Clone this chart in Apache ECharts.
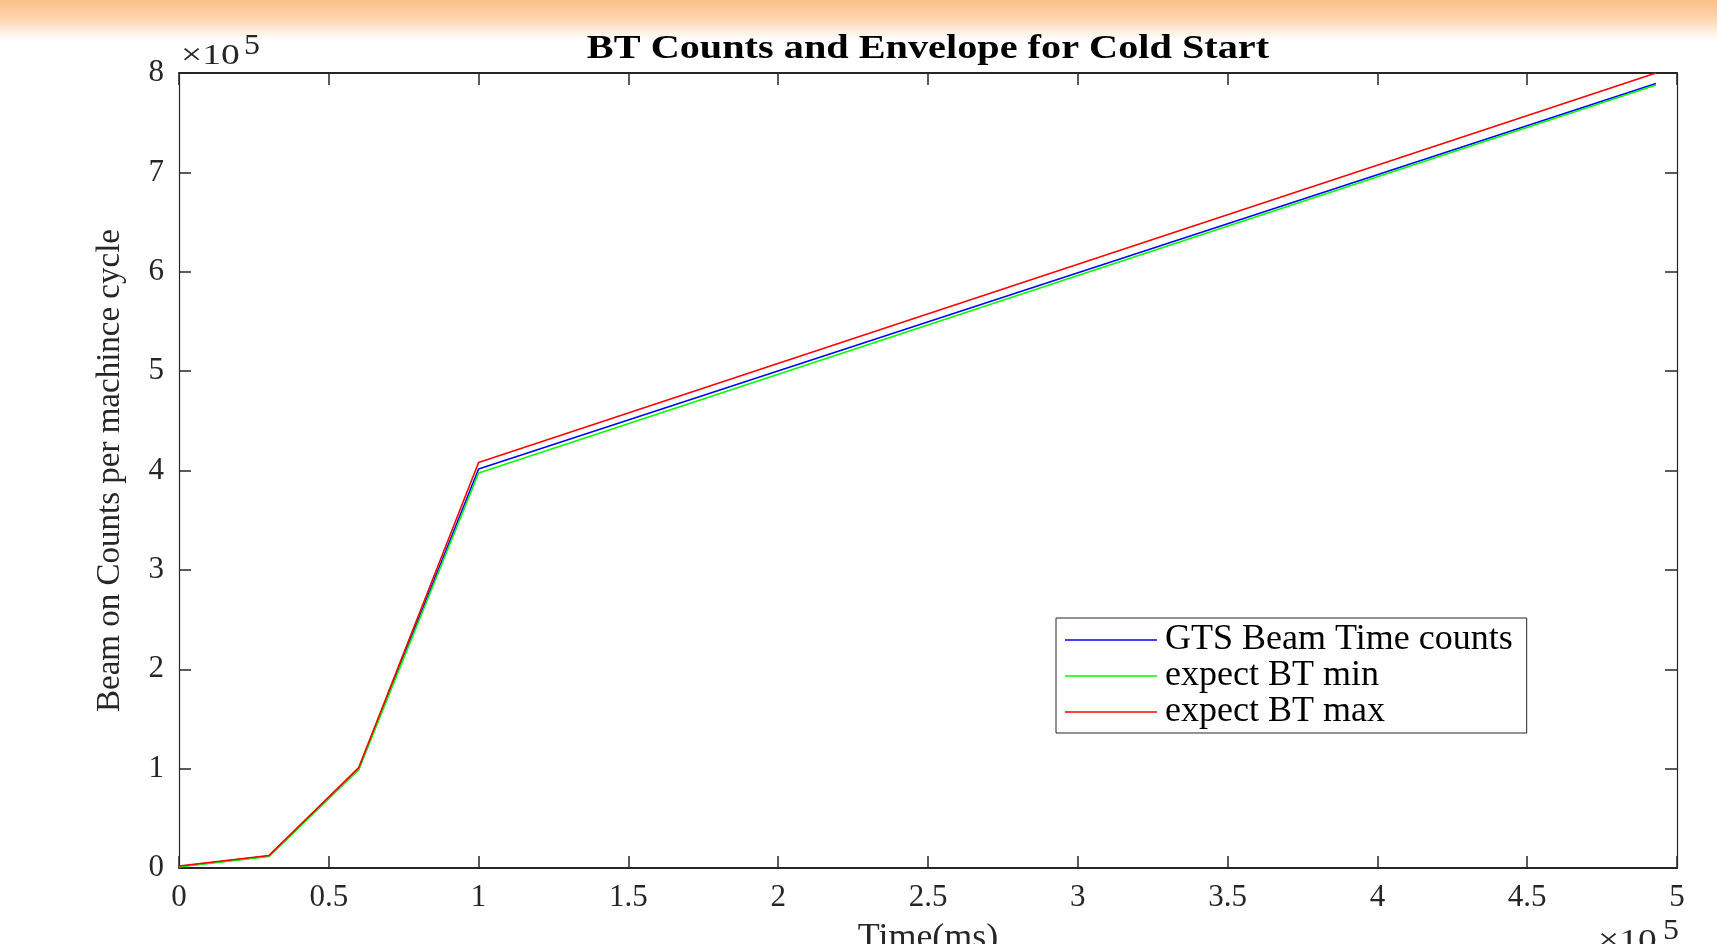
<!DOCTYPE html>
<html>
<head>
<meta charset="utf-8">
<script src="https://cdn.jsdelivr.net/npm/echarts@6/dist/echarts.min.js"></script>
<style>
html,body{margin:0;padding:0;background:#fff;}
#main{width:1717px;height:944px;}
</style>
</head>
<body>
<div id="main"></div>
<script>
// time axis (ms) and the three curves
var timeMs = [0, 30000, 60000, 100000, 493000];
var gtsCounts = [1500, 12000, 100000, 401500, 789500];
var btMin = [1000, 11500, 99000, 397500, 788000];
var btMax = [2000, 12500, 101000, 408000, 800000];
var seriesNames = ['GTS Beam Time counts', 'expect BT min', 'expect BT max'];

var serif = '"Liberation Serif", "Times New Roman", serif';
var ink = '#262626';

function pairs(xs, ys) {
	var out = [];
	for (var i = 0; i < xs.length; i++) out.push([xs[i], ys[i]]);
	return out;
}
function fmt(v) {
	return String(+(v / 1e5).toFixed(1));
}

var myChart = echarts.init(document.getElementById('main'));

var axisLine = { show: true, onZero: false, lineStyle: { color: ink, width: 2 } };
var axisLineY = { show: true, onZero: false, lineStyle: { color: ink, width: 1.2 } };
var tick = { show: true, inside: true, length: 12, lineStyle: { color: ink, width: 1.5 } };

option = {
	backgroundColor: '#fff',
	animation: false,
	grid: { left: 179, right: 40, top: 73, bottom: 76, containLabel: false, outerBoundsMode: 'none' },
	legend: {
		data: seriesNames,
		orient: 'vertical',
		left: 1056,
		top: 618,
		padding: [4, 14, 3, 9],
		icon: 'rect',
		itemWidth: 92,
		itemHeight: 1.6,
		itemGap: 0,
		borderColor: ink,
		borderWidth: 1,
		textStyle: { fontFamily: serif, fontSize: 36, lineHeight: 35, color: '#000', padding: [0, 0, 0, 3] }
	},
	xAxis: [{
		type: 'value',
		min: 0, max: 500000, interval: 50000,
		name: 'Time(ms)',
		nameLocation: 'middle',
		nameGap: 53,
		nameTextStyle: { fontFamily: serif, fontSize: 36, color: ink },
		axisLine: axisLine,
		axisTick: tick,
		splitLine: { show: false },
		axisLabel: { fontFamily: serif, fontSize: 31, color: ink, margin: 14, formatter: fmt }
	}, {
		type: 'value',
		position: 'top',
		min: 0, max: 500000, interval: 50000,
		axisLine: axisLine,
		axisTick: tick,
		splitLine: { show: false },
		axisLabel: { show: false }
	}],
	yAxis: [{
		type: 'value',
		min: 0, max: 800000, interval: 100000,
		name: 'Beam on Counts per machince cycle',
		nameLocation: 'middle',
		nameGap: 52,
		nameTextStyle: { fontFamily: serif, fontSize: 33, color: ink },
		axisLine: axisLineY,
		axisTick: tick,
		splitLine: { show: false },
		axisLabel: { fontFamily: serif, fontSize: 31, color: ink, margin: 15, formatter: fmt }
	}, {
		type: 'value',
		position: 'right',
		min: 0, max: 800000, interval: 100000,
		axisLine: axisLineY,
		axisTick: tick,
		splitLine: { show: false },
		axisLabel: { show: false }
	}],
	graphic: [
		{
			type: 'rect', left: 0, top: 0, z: -10,
			shape: { width: 1717, height: 40 },
			style: {
				fill: new echarts.graphic.LinearGradient(0, 0, 0, 1, [
					{ offset: 0, color: '#fbc08a' },
					{ offset: 0.45, color: '#fdd4ac' },
					{ offset: 1, color: '#ffffff' }
				])
			}
		},
		{
			type: 'text', x: 928, y: 33, scaleX: 1.22,
			style: { text: 'BT Counts and Envelope for Cold Start', textAlign: 'center', font: 'bold 33px ' + serif, fill: '#000' }
		},
		{ type: 'text', x: 181, y: 41, scaleX: 1.25, style: { text: '\u00d710', font: '30px ' + serif, fill: ink } },
		{ type: 'text', x: 244, y: 32, scaleX: 1.1, style: { text: '5', font: '29px ' + serif, fill: ink } },
		{ type: 'text', x: 1598, y: 926, scaleX: 1.25, style: { text: '\u00d710', font: '30px ' + serif, fill: ink } },
		{ type: 'text', x: 1663, y: 917, scaleX: 1.1, style: { text: '5', font: '29px ' + serif, fill: ink } }
	],
	series: [{
		name: seriesNames[0],
		type: 'line',
		color: '#0000ff',
		symbol: 'none',
		lineStyle: { width: 1.6 },
		data: pairs(timeMs, gtsCounts)
	}, {
		name: seriesNames[1],
		type: 'line',
		color: '#00ff00',
		symbol: 'none',
		lineStyle: { width: 1.6 },
		data: pairs(timeMs, btMin)
	}, {
		name: seriesNames[2],
		type: 'line',
		color: '#ff0000',
		symbol: 'none',
		lineStyle: { width: 1.6 },
		data: pairs(timeMs, btMax)
	}]
};
myChart.setOption(option, true);
</script>
</body>
</html>
